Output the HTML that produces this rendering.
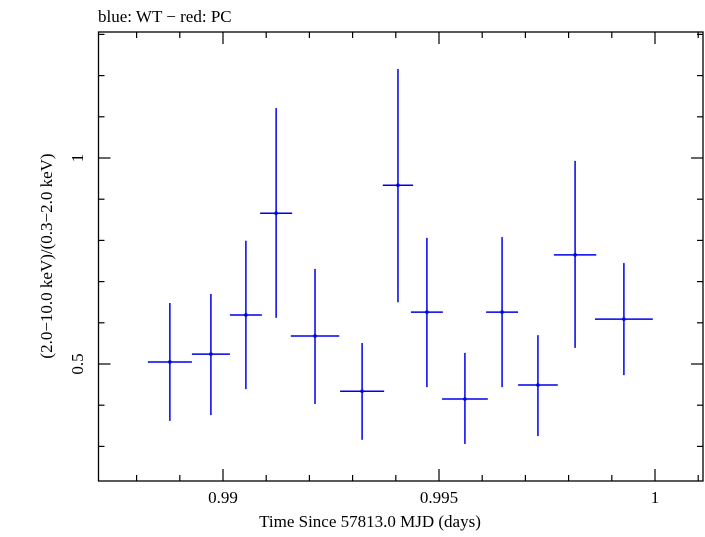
<!DOCTYPE html>
<html><head><meta charset="utf-8"><style>
body{margin:0;background:#fff;}
svg text{font-family:"Liberation Serif",serif;fill:#000;}
</style></head><body>
<svg id="chart" width="705" height="532">
<text x="98" y="22" font-size="17">blue: WT − red: PC</text>
<text x="370" y="527" font-size="17" text-anchor="middle">Time Since 57813.0 MJD (days)</text>
<text transform="translate(52,256) rotate(-90)" font-size="17" text-anchor="middle">(2.0−10.0 keV)/(0.3−2.0 keV)</text>
<g id="axes"></g><g id="data"></g>
</svg>
<script>
const times=[0.98877,0.98972,0.99053,0.99123,0.99213,0.99322,0.99405,0.99472,0.9956,0.99646,0.99729,0.99815,0.99928];
const halfWidths=[0.00051,0.00044,0.00037,0.00037,0.00056,0.00051,0.00035,0.00037,0.00053,0.00037,0.00046,0.00049,0.00067];
const ratios=[0.505,0.524,0.619,0.866,0.568,0.434,0.934,0.626,0.415,0.626,0.449,0.765,0.609];
const errHigh=[0.648,0.670,0.799,1.121,0.731,0.551,1.216,0.806,0.527,0.808,0.570,0.993,0.745];
const errLow=[0.362,0.376,0.439,0.612,0.403,0.316,0.650,0.444,0.306,0.444,0.325,0.539,0.473];
const xMajor=[0.99,0.995,1];
const xMajorLabels=["0.99","0.995","1"];
const yMajor=[0.5,1];
const yMajorLabels=["0.5","1"];
const L=98.5,R=703,T=32,B=481;
const X=t=>223+(t-0.99)*43200;
const Y=v=>158+(1-v)*412;
const NS="http://www.w3.org/2000/svg";
const ax=document.getElementById('axes'),dg=document.getElementById('data');
function mk(p,tag,a){const e=document.createElementNS(NS,tag);for(const k in a)e.setAttribute(k,a[k]);p.appendChild(e);return e;}
const fr=mk(ax,'rect',{x:L,y:T,width:R-L,height:B-T,fill:'none',stroke:'#000','stroke-width':1.3});


for(let i=0;i<=16;i++){const t=0.987+i*0.001;const x=X(t);if(x<L||x>R)continue;const maj=Math.abs(Math.round(t*200)-t*200)<1e-6;const h=maj?12:6;
const a=mk(ax,'line',{x1:x,x2:x,y1:B,y2:B-h,stroke:'#000','stroke-width':1.2});


const b=mk(ax,'line',{x1:x,x2:x,y1:T,y2:T+h,stroke:'#000','stroke-width':1.2});

}
xMajor.forEach((t,i)=>{const e=mk(ax,'text',{x:X(t),y:B+22,'font-size':17,'text-anchor':'middle'});e.textContent=xMajorLabels[i];

});
for(let i=2;i<=13;i++){const v=i/10;const y=Y(v);if(y<T||y>B)continue;const maj=(i%5==0);const h=maj?12:6;
const a=mk(ax,'line',{x1:L,x2:L+h,y1:y,y2:y,stroke:'#000','stroke-width':1.2});


const b=mk(ax,'line',{x1:R,x2:R-h,y1:y,y2:y,stroke:'#000','stroke-width':1.2});

}
yMajor.forEach((v,i)=>{const e=mk(ax,'text',{transform:`translate(83,${Y(v)}) rotate(-90)`,'font-size':17,'text-anchor':'middle'});e.textContent=yMajorLabels[i];

});
times.forEach((t,i)=>{const g=mk(dg,'g',{stroke:'#0000ee','stroke-width':1.5,fill:'#0000ee'});


mk(g,'line',{x1:X(t-halfWidths[i]),x2:X(t+halfWidths[i]),y1:Y(ratios[i]),y2:Y(ratios[i])});
mk(g,'line',{x1:X(t),x2:X(t),y1:Y(errHigh[i]),y2:Y(errLow[i])});
mk(g,'circle',{cx:X(t),cy:Y(ratios[i]),r:1.8,stroke:'none'});});
</script>
</body></html>
